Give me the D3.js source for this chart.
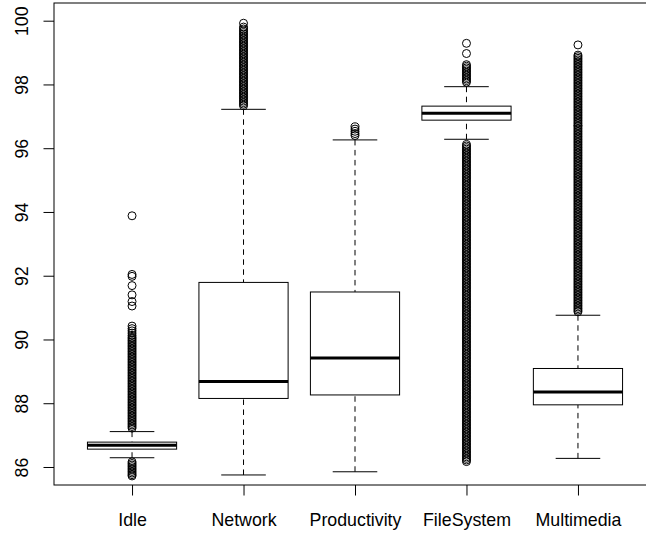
<!DOCTYPE html>
<html>
<head>
<meta charset="utf-8">
<script src="https://cdn.jsdelivr.net/npm/d3@7"></script>
<style>
  body { margin: 0; background: #fff; }
  text { font-family: "Liberation Sans", Arial, Helvetica, sans-serif; font-size: 17.8px; fill: #000; }
</style>
</head>
<body>
<script>
// Box statistics per category
var categories = ["Idle", "Network", "Productivity", "FileSystem", "Multimedia"];
var lowerWhisker = [86.29, 85.75, 85.85, 96.28, 86.27];
var q1 = [86.56, 88.15, 88.26, 96.88, 87.95];
var medians = [86.68, 88.68, 89.42, 97.10, 88.35];
var q3 = [86.78, 91.79, 91.49, 97.32, 89.09];
var upperWhisker = [87.11, 97.22, 96.26, 97.93, 90.76];
var yTicks = [86, 88, 90, 92, 94, 96, 98, 100];

// Outliers (dense columns read as closely spaced points)
var idleOutliers = [
  93.88, 92.04, 91.98, 91.69, 91.40, 91.19, 91.05,
  90.42, 90.34, 90.27, 90.20, 90.13, 90.07, 90.02,
  89.97, 89.92, 89.87, 89.82, 89.77, 89.72, 89.67, 89.62, 89.57, 89.52,
  89.47, 89.42, 89.37, 89.32, 89.27, 89.22, 89.17, 89.12, 89.07, 89.02,
  88.97, 88.92, 88.87, 88.82, 88.77, 88.72, 88.67, 88.62, 88.57, 88.52,
  88.47, 88.42, 88.37, 88.32, 88.27, 88.22, 88.17, 88.12, 88.07, 88.02,
  87.97, 87.92, 87.87, 87.82, 87.77, 87.72, 87.67, 87.62, 87.57, 87.52,
  87.47, 87.42, 87.37, 87.32, 87.27, 87.22,
  86.16, 86.11, 86.06, 86.01, 85.96, 85.91, 85.86, 85.81, 85.76, 85.72
];
var networkOutliers = [
  99.92, 99.80, 99.74,
  99.68, 99.63, 99.58, 99.53, 99.48, 99.43, 99.38, 99.33, 99.28, 99.23,
  99.18, 99.13, 99.08, 99.03, 98.98, 98.93, 98.88, 98.83, 98.78, 98.73,
  98.68, 98.63, 98.58, 98.53, 98.48, 98.43, 98.38, 98.33, 98.28, 98.23,
  98.18, 98.13, 98.08, 98.03, 97.98, 97.93, 97.88, 97.83, 97.78, 97.73,
  97.68, 97.63, 97.58, 97.53, 97.48, 97.43, 97.38, 97.33
];
var productivityOutliers = [96.67, 96.60, 96.53, 96.46, 96.40];
var fileSystemOutliers = [
  99.29, 98.97,
  98.62, 98.57, 98.52, 98.47, 98.42, 98.37, 98.32, 98.27, 98.22, 98.17, 98.12, 98.07,
  96.12, 96.07, 96.02,
  95.97, 95.92, 95.87, 95.82, 95.77, 95.72, 95.67, 95.62, 95.57, 95.52,
  95.47, 95.42, 95.37, 95.32, 95.27, 95.22, 95.17, 95.12, 95.07, 95.02,
  94.97, 94.92, 94.87, 94.82, 94.77, 94.72, 94.67, 94.62, 94.57, 94.52,
  94.47, 94.42, 94.37, 94.32, 94.27, 94.22, 94.17, 94.12, 94.07, 94.02,
  93.97, 93.92, 93.87, 93.82, 93.77, 93.72, 93.67, 93.62, 93.57, 93.52,
  93.47, 93.42, 93.37, 93.32, 93.27, 93.22, 93.17, 93.12, 93.07, 93.02,
  92.97, 92.92, 92.87, 92.82, 92.77, 92.72, 92.67, 92.62, 92.57, 92.52,
  92.47, 92.42, 92.37, 92.32, 92.27, 92.22, 92.17, 92.12, 92.07, 92.02,
  91.97, 91.92, 91.87, 91.82, 91.77, 91.72, 91.67, 91.62, 91.57, 91.52,
  91.47, 91.42, 91.37, 91.32, 91.27, 91.22, 91.17, 91.12, 91.07, 91.02,
  90.97, 90.92, 90.87, 90.82, 90.77, 90.72, 90.67, 90.62, 90.57, 90.52,
  90.47, 90.42, 90.37, 90.32, 90.27, 90.22, 90.17, 90.12, 90.07, 90.02,
  89.97, 89.92, 89.87, 89.82, 89.77, 89.72, 89.67, 89.62, 89.57, 89.52,
  89.47, 89.42, 89.37, 89.32, 89.27, 89.22, 89.17, 89.12, 89.07, 89.02,
  88.97, 88.92, 88.87, 88.82, 88.77, 88.72, 88.67, 88.62, 88.57, 88.52,
  88.47, 88.42, 88.37, 88.32, 88.27, 88.22, 88.17, 88.12, 88.07, 88.02,
  87.97, 87.92, 87.87, 87.82, 87.77, 87.72, 87.67, 87.62, 87.57, 87.52,
  87.47, 87.42, 87.37, 87.32, 87.27, 87.22, 87.17, 87.12, 87.07, 87.02,
  86.97, 86.92, 86.87, 86.82, 86.77, 86.72, 86.67, 86.62, 86.57, 86.52,
  86.47, 86.42, 86.37, 86.32, 86.27, 86.22, 86.17
];
var multimediaOutliers = [
  99.24,
  98.92, 98.87, 98.82, 98.77, 98.72, 98.67, 98.62, 98.57, 98.52,
  98.47, 98.42, 98.37, 98.32, 98.27, 98.22, 98.17, 98.12, 98.07, 98.02,
  97.97, 97.92, 97.87, 97.82, 97.77, 97.72, 97.67, 97.62, 97.57, 97.52,
  97.47, 97.42, 97.37, 97.32, 97.27, 97.22, 97.17, 97.12, 97.07, 97.02,
  96.97, 96.92, 96.87, 96.82, 96.77, 96.72, 96.67, 96.62, 96.57, 96.52,
  96.47, 96.42, 96.37, 96.32, 96.27, 96.22, 96.17, 96.12, 96.07, 96.02,
  95.97, 95.92, 95.87, 95.82, 95.77, 95.72, 95.67, 95.62, 95.57, 95.52,
  95.47, 95.42, 95.37, 95.32, 95.27, 95.22, 95.17, 95.12, 95.07, 95.02,
  94.97, 94.92, 94.87, 94.82, 94.77, 94.72, 94.67, 94.62, 94.57, 94.52,
  94.47, 94.42, 94.37, 94.32, 94.27, 94.22, 94.17, 94.12, 94.07, 94.02,
  93.97, 93.92, 93.87, 93.82, 93.77, 93.72, 93.67, 93.62, 93.57, 93.52,
  93.47, 93.42, 93.37, 93.32, 93.27, 93.22, 93.17, 93.12, 93.07, 93.02,
  92.97, 92.92, 92.87, 92.82, 92.77, 92.72, 92.67, 92.62, 92.57, 92.52,
  92.47, 92.42, 92.37, 92.32, 92.27, 92.22, 92.17, 92.12, 92.07, 92.02,
  91.97, 91.92, 91.87, 91.82, 91.77, 91.72, 91.67, 91.62, 91.57, 91.52,
  91.47, 91.42, 91.37, 91.32, 91.27, 91.22, 91.17, 91.12, 91.07, 91.02,
  90.97, 90.92, 90.87
];
var outliers = [idleOutliers, networkOutliers, productivityOutliers, fileSystemOutliers, multimediaOutliers];

var width = 646;
var height = 533;

// plot frame in pixels
var plot = { left: 54, top: 3, right: 656, bottom: 485 };

var svg = d3.select("body")
  .append("svg")
  .attr("width", width)
  .attr("height", height);

svg.append("rect")
  .attr("width", width)
  .attr("height", height)
  .attr("fill", "#fff");

// scales: boxes sit at 1..5, R-style padding around them
var xScale = d3.scaleLinear().domain([0.3, 5.7]).range([plot.left, plot.right]);
var yScale = d3.scaleLinear().domain([85.435, 100.555]).range([plot.bottom, plot.top]);

var boxHalf = (xScale(1.4) - xScale(1)) ;
var capHalf = boxHalf / 2;

var boxes = categories.map(function(c, i) {
  return { name: c, pos: i + 1, lo: lowerWhisker[i], q1: q1[i], med: medians[i], q3: q3[i], hi: upperWhisker[i], out: outliers[i] };
});

var boxGroup = svg.append("g")
  .selectAll("g")
  .data(boxes)
  .enter()
  .append("g");

// dashed whiskers
boxGroup.append("line")
  .attr("x1", d => xScale(d.pos)).attr("x2", d => xScale(d.pos))
  .attr("y1", d => yScale(d.lo)).attr("y2", d => yScale(d.q1))
  .attr("stroke", "#000").attr("stroke-dasharray", "5.5,4.5");
boxGroup.append("line")
  .attr("x1", d => xScale(d.pos)).attr("x2", d => xScale(d.pos))
  .attr("y1", d => yScale(d.hi)).attr("y2", d => yScale(d.q3))
  .attr("stroke", "#000").attr("stroke-dasharray", "5.5,4.5");

// caps
boxGroup.append("line")
  .attr("x1", d => xScale(d.pos) - capHalf).attr("x2", d => xScale(d.pos) + capHalf)
  .attr("y1", d => yScale(d.lo)).attr("y2", d => yScale(d.lo))
  .attr("stroke", "#000");
boxGroup.append("line")
  .attr("x1", d => xScale(d.pos) - capHalf).attr("x2", d => xScale(d.pos) + capHalf)
  .attr("y1", d => yScale(d.hi)).attr("y2", d => yScale(d.hi))
  .attr("stroke", "#000");

// box
boxGroup.append("rect")
  .attr("x", d => xScale(d.pos) - boxHalf)
  .attr("width", boxHalf * 2)
  .attr("y", d => yScale(d.q3))
  .attr("height", d => yScale(d.q1) - yScale(d.q3))
  .attr("fill", "#fff")
  .attr("stroke", "#000");

// median
boxGroup.append("line")
  .attr("x1", d => xScale(d.pos) - boxHalf).attr("x2", d => xScale(d.pos) + boxHalf)
  .attr("y1", d => yScale(d.med)).attr("y2", d => yScale(d.med))
  .attr("stroke", "#000").attr("stroke-width", 3);

// outlier circles
boxGroup.selectAll("circle")
  .data(d => d.out.map(v => ({ pos: d.pos, v: v })))
  .enter()
  .append("circle")
  .attr("cx", d => xScale(d.pos))
  .attr("cy", d => yScale(d.v))
  .attr("r", 4)
  .attr("fill", "none")
  .attr("stroke", "#000")
  .attr("stroke-width", 1);

// axes
var leftAxis = d3.axisLeft(yScale).tickValues(yTicks).tickSize(10.5).tickFormat(d3.format("d"));
var bottomAxis = d3.axisBottom(xScale).tickValues([1, 2, 3, 4, 5]).tickSize(10.5)
  .tickFormat(d => categories[d - 1]);

var yAxisG = svg.append("g")
  .attr("transform", `translate(${plot.left}, 0)`)
  .call(leftAxis);
yAxisG.select(".domain").remove();
yAxisG.selectAll("text")
  .attr("x", 0).attr("dy", null)
  .attr("text-anchor", "middle")
  .attr("transform", "translate(-26.5, 0) rotate(-90)");

var xAxisG = svg.append("g")
  .attr("transform", `translate(0, ${plot.bottom})`)
  .call(bottomAxis);
xAxisG.select(".domain").remove();
xAxisG.selectAll("text").attr("y", 40.7).attr("dy", null);

svg.selectAll(".tick text").attr("font-size", null).attr("font-family", null);

// frame
svg.append("rect")
  .attr("x", plot.left)
  .attr("y", plot.top)
  .attr("width", plot.right - plot.left)
  .attr("height", plot.bottom - plot.top)
  .attr("fill", "none")
  .attr("stroke", "#000");
</script>
</body>
</html>
